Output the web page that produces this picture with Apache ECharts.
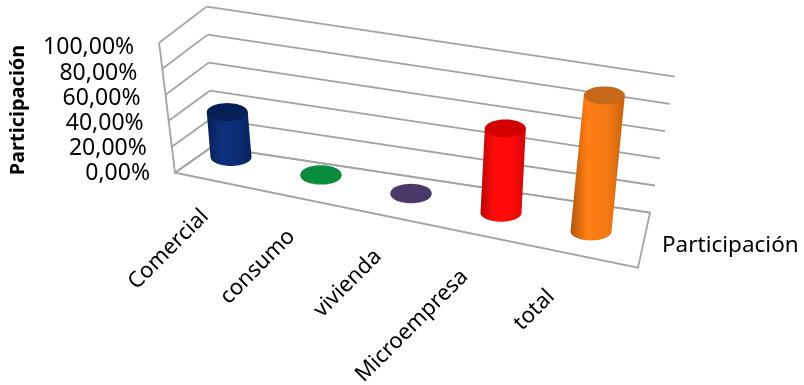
<!DOCTYPE html>
<html>
<head>
<meta charset="utf-8">
<script src="https://cdn.jsdelivr.net/npm/echarts@6/dist/echarts.min.js"></script>
<style>
  html, body { margin: 0; padding: 0; background: #fff; }
  #chart { width: 804px; height: 385px; }
</style>
</head>
<body>
<div id="chart"></div>
<script>
// datos
const categories = ['Comercial', 'consumo', 'vivienda', 'Microempresa', 'total'];
const values = [0.33, 0.01, 0.01, 0.62, 1.0];
const valueTicks = [0, 0.2, 0.4, 0.6, 0.8, 1];
const seriesName = 'Participación';

// colores de los cilindros
const barColors = ['#0b2c73', '#0b9443', '#4e3d70', '#ff0a0a', '#f27812'];
const topColors = ['#062057', '#0a8c3e', '#4a3968', '#d20000', '#c8681a'];

const FONT = "'Noto Sans', 'Open Sans', sans-serif";
const LINE = '#a3a3a3';

// falsa perspectiva 3D
const SLOPE = 0.2067;            // inclinacion de la fila de cilindros
const VY = 2180;                 // punto de fuga de las verticales
const VX = { back: 290, row: 400, front: 420 };
const BACK = [[26, -1], [14, -28]];
const FRONT = [[-11, 25], [2, 27]];
const BACK_K = [1.03, 1.0];
const FRONT_K = [0.955, 0.96];

const lerp = (a, b, t) => a + (b - a) * t;

// c: categoria (continua), v: valor, s: -1 fondo, 0 fila, 1 frente
function project(api, c, v, s) {
    const p0 = api.coord([c, 0]);
    const p1 = api.coord([c, v]);
    const x0 = api.coord([0, 0])[0];
    const t = (c + 0.5) / categories.length;
    let dx = 0, dy = 0, k = 1, vx = VX.row;
    if (s) {
        const side = s < 0 ? BACK : FRONT;
        const ks = s < 0 ? BACK_K : FRONT_K;
        const a = Math.abs(s);
        dx = lerp(side[0][0], side[1][0], t) * a;
        dy = lerp(side[0][1], side[1][1], t) * a;
        k = 1 + (lerp(ks[0], ks[1], t) - 1) * a;
        vx = lerp(VX.row, s < 0 ? VX.back : VX.front, a);
    }
    let x = p0[0] + dx;
    const y = p0[1] + SLOPE * (p0[0] - x0) + dy;
    const h = (p0[1] - p1[1]) * k;
    x += (x - vx) / (VY - y) * h;
    return [x, y - h];
}

function ellipsePts(cx, cy, rx, ry, from, to, n) {
    const pts = [];
    for (let j = 0; j <= n; j++) {
        const a = from + (to - from) * j / n;
        pts.push([cx + rx * Math.cos(a), cy + ry * Math.sin(a)]);
    }
    return pts;
}

function shade(hex, f) {
    const n = parseInt(hex.slice(1), 16);
    const r = Math.min(255, Math.round(((n >> 16) & 255) * f));
    const g = Math.min(255, Math.round(((n >> 8) & 255) * f));
    const b = Math.min(255, Math.round((n & 255) * f));
    return 'rgb(' + r + ',' + g + ',' + b + ')';
}

const fmt = v => (v * 100).toFixed(2).replace('.', ',') + '%';

function renderWalls(params, api) {
    const last = categories.length - 0.5;
    const children = [];
    const line = (a, b) => children.push({
        type: 'line',
        shape: { x1: a[0], y1: a[1], x2: b[0], y2: b[1] },
        style: { stroke: LINE, lineWidth: 1.8 }
    });
    // suelo
    children.push({
        type: 'polygon',
        shape: { points: [
            project(api, -0.5, 0, -1), project(api, last, 0, -1),
            project(api, last, 0, 1), project(api, -0.5, 0, 1)
        ] },
        style: { fill: 'none', stroke: LINE, lineWidth: 1.8 }
    });
    valueTicks.forEach(v => {
        line(project(api, -0.5, v, -1), project(api, last, v, -1));
        line(project(api, -0.5, v, 1), project(api, -0.5, v, -1));
        const p = project(api, -0.5, v, 1);
        children.push({
            type: 'text', x: p[0] - 25, y: p[1] + 1 + 4 * v,
            style: { text: fmt(v), fill: '#000', fontSize: 23, fontFamily: FONT,
                     align: 'right', verticalAlign: 'middle' }
        });
    });
    line(project(api, -0.5, 0, 1), project(api, -0.5, valueTicks[valueTicks.length - 1], 1));
    // etiquetas de categoria, giradas 45 grados
    categories.forEach((name, i) => {
        const p = project(api, i, 0, 0);
        children.push({
            type: 'text', x: p[0] - 26 - 3.5 * i, y: p[1] + 56 + 1.5 * i, rotation: Math.PI / 4,
            style: { text: name, fill: '#000', fontSize: 22, fontFamily: FONT,
                     align: 'right', verticalAlign: 'middle' }
        });
    });
    return { type: 'group', children: children };
}

function renderBar(params, api) {
    const c = api.value(0), v = api.value(1), i = params.dataIndex;
    const b = project(api, c, 0, 0);
    const t = project(api, c, v, 0);
    const rx = 20.5, ry = 9;
    const body = [[t[0] - rx, t[1]], [b[0] - rx, b[1]]]
        .concat(ellipsePts(b[0], b[1], rx, ry, Math.PI, 0, 30))
        .concat([[t[0] + rx, t[1]]]);
    const base = barColors[i];
    return {
        type: 'group',
        children: [
            {
                type: 'polygon',
                shape: { points: body },
                style: {
                    fill: {
                        type: 'linear', x: 0, y: 0, x2: 1, y2: 0,
                        colorStops: [
                            { offset: 0, color: shade(base, 0.72) },
                            { offset: 0.3, color: shade(base, 1.06) },
                            { offset: 0.7, color: base },
                            { offset: 1, color: shade(base, 0.82) }
                        ]
                    }
                }
            },
            {
                type: 'polygon',
                shape: { points: ellipsePts(t[0], t[1], rx, ry, 0, Math.PI * 2, 48) },
                style: { fill: topColors[i] }
            }
        ]
    };
}

const chart = echarts.init(document.getElementById('chart'));
chart.setOption({
    animation: false,
    grid: { left: 186, right: 168, top: 21, bottom: 228, containLabel: false, outerBoundsMode: 'none' },
    xAxis: { type: 'value', min: -0.5, max: categories.length - 0.5, show: false },
    yAxis: { type: 'value', min: 0, max: 1, show: false },
    legend: {
        data: [seriesName], left: 652, top: 229, icon: 'rect',
        itemWidth: 0, itemHeight: 0, selectedMode: false,
        textStyle: { fontSize: 22.5, fontFamily: FONT, color: '#000' }
    },
    graphic: [{
        type: 'text', x: 18, y: 110, rotation: Math.PI / 2,
        style: { text: seriesName, fill: '#000', fontSize: 20, fontWeight: 'bold',
                 fontFamily: FONT, align: 'center', verticalAlign: 'middle' }
    }],
    series: [
        {
            type: 'custom', name: 'walls', silent: true, z: 1,
            data: [[0, 0]],
            renderItem: renderWalls
        },
        {
            type: 'custom', name: seriesName, z: 2,
            data: values.map((v, i) => [i, v]),
            encode: { x: 0, y: 1 },
            renderItem: renderBar
        }
    ]
});
</script>
</body>
</html>
